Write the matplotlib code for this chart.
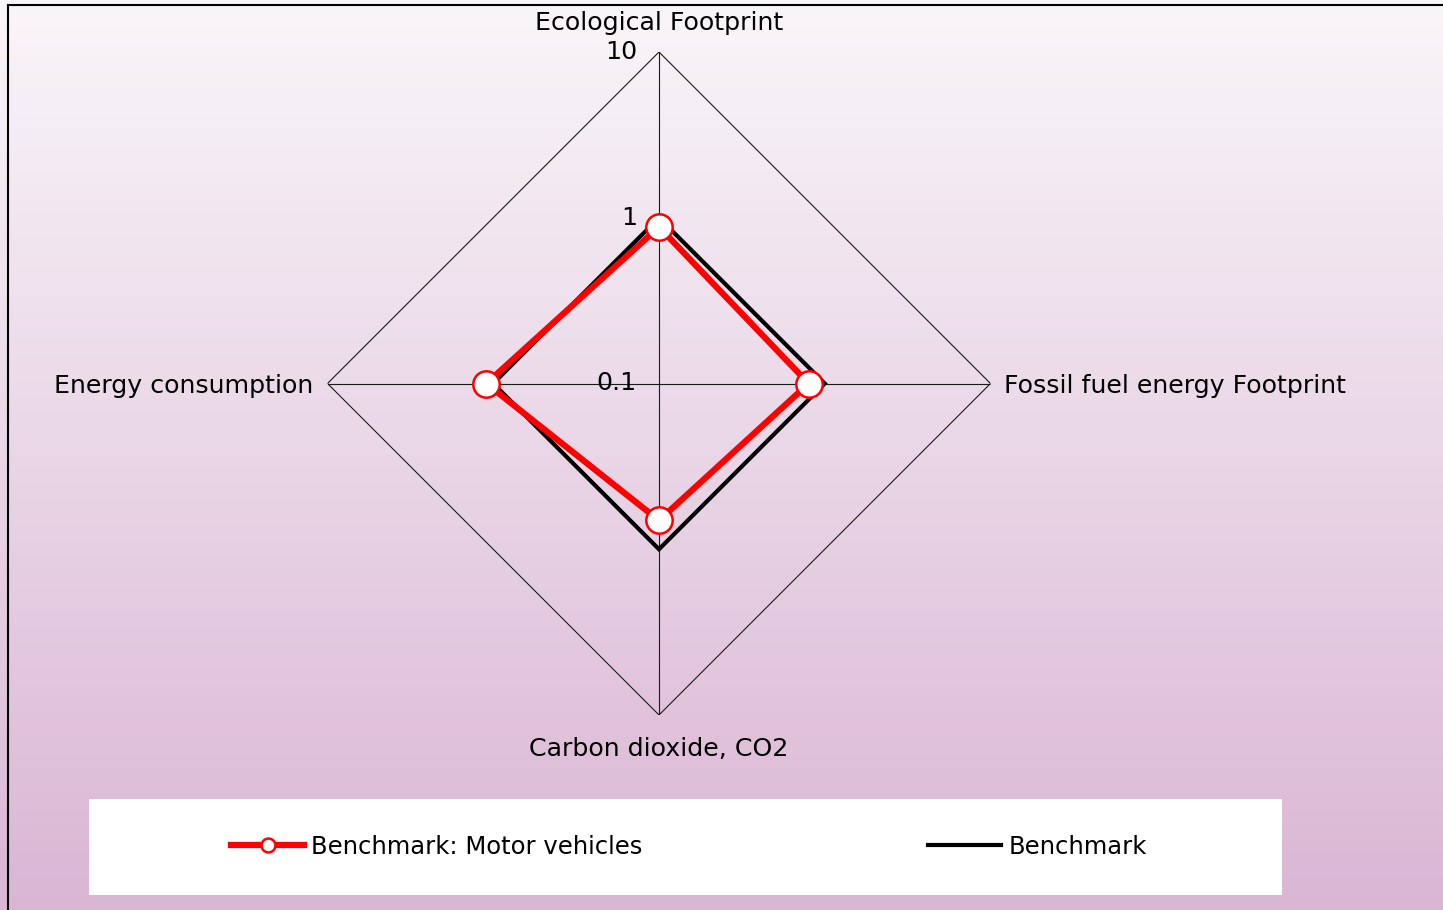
import matplotlib
matplotlib.use("Agg")
import matplotlib.pyplot as plt
import numpy as np
from matplotlib.transforms import offset_copy
from matplotlib.lines import Line2D
from matplotlib.patches import Rectangle
from matplotlib.colors import LinearSegmentedColormap

# ---------------- data ----------------
categories = ["Ecological Footprint", "Fossil fuel energy Footprint",
              "Carbon dioxide, CO2", "Energy consumption"]
motor_vehicles = [0.88, 0.80, 0.67, 1.10]
benchmark = [1.0, 1.0, 1.0, 1.0]
series_names = ["Benchmark: Motor vehicles", "Benchmark"]
r_ticks = [0.1, 1, 10]
r_tick_labels = ["0.1", "1", "10"]

plt.rcParams["font.family"] = ["DejaVu Sans"]
FS = 18.2
LFS = 17.5

W, H = 1443, 910
fig = plt.figure(figsize=(W / 100, H / 100), dpi=100)

# background gradient
bg = fig.add_axes([0, 0, 1, 1], zorder=0)
grad = np.linspace(0, 1, 256).reshape(-1, 1)
cmap = LinearSegmentedColormap.from_list("bg", ["#f9f6f9", "#dab6d4"])
bg.imshow(grad, aspect="auto", cmap=cmap, extent=[0, 1, 0, 1], origin="upper")
bg.set_xlim(0, 1)
bg.set_ylim(0, 1)
bg.axis("off")
# frame lines (left and top)
fig.add_artist(Line2D([7.5 / W, 7.5 / W], [0, 1 - 5 / H], transform=fig.transFigure,
                      color="black", lw=1.5))
fig.add_artist(Line2D([7.5 / W, 1], [1 - 5 / H, 1 - 5 / H], transform=fig.transFigure,
                      color="black", lw=1.5))

# legend background box
fig.add_artist(Rectangle((89 / W, 1 - 895 / H), (1282 - 89) / W, 96 / H,
                         transform=fig.transFigure, facecolor="white",
                         edgecolor="none", zorder=1))

# ---------------- radar ----------------
cx, cy, R = 659, 383.5, 331.5
ax = fig.add_axes([(cx - R) / W, (H - cy - R) / H, 2 * R / W, 2 * R / H],
                  projection="polar", zorder=2)
ax.patch.set_visible(False)
ax.set_theta_zero_location("N")
ax.set_theta_direction(-1)
ax.set_rscale("log")
ax.set_rlim(r_ticks[0], r_ticks[-1])
ax.grid(False)
ax.set_xticks([])
ax.set_yticks([])
ax.spines["polar"].set_visible(False)

n = len(categories)
theta = np.arange(n) * 2 * np.pi / n
theta_c = np.append(theta, theta[0])

# grid: diamonds and spokes
for lvl in r_ticks[1:]:
    ax.plot(theta_c, [lvl] * (n + 1), color="#1a1a1a", lw=0.8, zorder=1)
for t in theta:
    ax.plot([t, t], [r_ticks[0], r_ticks[-1]], color="#1a1a1a", lw=0.8, zorder=1)

# series
bench_c = benchmark + benchmark[:1]
mv_c = motor_vehicles + motor_vehicles[:1]
ax.plot(theta_c, bench_c, color="black", lw=3, zorder=3, solid_joinstyle="miter")
ax.plot(theta_c, mv_c, color="red", lw=4.5, zorder=4, solid_joinstyle="miter")
ax.plot(theta, motor_vehicles, ls="none", marker="o", ms=19, mfc="white",
        mec="red", mew=1.8, zorder=5)

# radial tick labels
tick_tr = offset_copy(ax.transData, fig=fig, x=-22, y=0, units="dots")
for v, lab in zip(r_ticks, r_tick_labels):
    ax.text(0, v, lab, transform=tick_tr, ha="right", va="center",
            fontsize=FS, color="black", clip_on=False, zorder=6)

# category labels
offsets = [(0, 29, "center"), (14, -3, "left"), (0, -34, "center"), (-14, -3, "right")]
for t, lab, (dx, dy, ha) in zip(theta, categories, offsets):
    tr = offset_copy(ax.transData, fig=fig, x=dx, y=dy, units="dots")
    ax.text(t, r_ticks[-1], lab, transform=tr, ha=ha, va="center",
            fontsize=FS, color="black", clip_on=False)

# legend
handles = [
    Line2D([], [], color="red", lw=4.5, marker="o", ms=10, mfc="white",
           mec="red", mew=1.8),
    Line2D([], [], color="black", lw=3),
]
fig.legend(handles, series_names, loc="center",
           bbox_to_anchor=(689 / W, 1 - 847 / H), ncol=2, frameon=False,
           fontsize=LFS, handlelength=3.0, handletextpad=0.3, columnspacing=11.75)

fig.savefig("out.png", dpi=100)
